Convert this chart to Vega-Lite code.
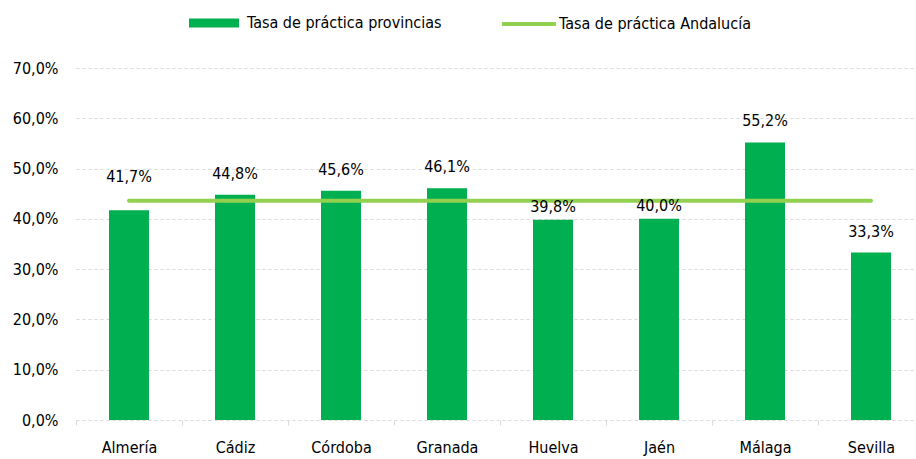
{
  "$schema": "https://vega.github.io/schema/vega-lite/v6.json",
  "autosize": "none",
  "width": 840,
  "height": 352,
  "padding": {"left": 76, "top": 68, "right": 0, "bottom": 39},
  "background": "white",
  "config": {
    "view": {"stroke": null},
    "font": "DejaVu Sans Condensed",
    "locale": {"number": {"decimal": ",", "thousands": ".", "grouping": [3], "currency": ["", " €"]}},
    "legend": {"labelFont": "DejaVu Sans Condensed", "labelFontSize": 16, "labelColor": "#000000", "title": null, "labelLimit": 0}
  },
  "data": {
    "values": [
      {"provincia": "Almería", "tasa": 0.417, "andalucia": 0.436, "serie": "Tasa de práctica provincias", "serieLinea": "Tasa de práctica Andalucía"},
      {"provincia": "Cádiz", "tasa": 0.448, "andalucia": 0.436, "serie": "Tasa de práctica provincias", "serieLinea": "Tasa de práctica Andalucía"},
      {"provincia": "Córdoba", "tasa": 0.456, "andalucia": 0.436, "serie": "Tasa de práctica provincias", "serieLinea": "Tasa de práctica Andalucía"},
      {"provincia": "Granada", "tasa": 0.461, "andalucia": 0.436, "serie": "Tasa de práctica provincias", "serieLinea": "Tasa de práctica Andalucía"},
      {"provincia": "Huelva", "tasa": 0.398, "andalucia": 0.436, "serie": "Tasa de práctica provincias", "serieLinea": "Tasa de práctica Andalucía"},
      {"provincia": "Jaén", "tasa": 0.400, "andalucia": 0.436, "serie": "Tasa de práctica provincias", "serieLinea": "Tasa de práctica Andalucía"},
      {"provincia": "Málaga", "tasa": 0.552, "andalucia": 0.436, "serie": "Tasa de práctica provincias", "serieLinea": "Tasa de práctica Andalucía"},
      {"provincia": "Sevilla", "tasa": 0.333, "andalucia": 0.436, "serie": "Tasa de práctica provincias", "serieLinea": "Tasa de práctica Andalucía"}
    ]
  },
  "encoding": {
    "x": {
      "field": "provincia", "type": "nominal", "sort": null,
      "scale": {"range": [0, 848], "paddingInner": 0, "paddingOuter": 0},
      "axis": {
        "title": null, "labelAngle": 0, "labelFontSize": 16, "labelColor": "#000000",
        "labelFont": "DejaVu Sans Condensed", "labelPadding": 14,
        "domain": false, "ticks": true, "tickBand": "extent", "tickColor": "#d9d9d9", "tickSize": 5,
        "grid": false, "labelOverlap": false
      }
    },
    "y": {
      "type": "quantitative",
      "scale": {"domain": [0, 0.7]},
      "axis": {
        "title": null, "format": ".1%", "values": [0, 0.1, 0.2, 0.3, 0.4, 0.5, 0.6, 0.7],
        "labelFontSize": 16, "labelColor": "#000000", "labelFont": "DejaVu Sans Condensed",
        "labelPadding": 18, "domain": false, "ticks": false, "labelOverlap": false, "labelBound": false,
        "grid": true, "gridColor": "#d9d9d9", "gridDash": [3, 3], "gridWidth": 1
      }
    }
  },
  "layer": [
    {
      "mark": {"type": "bar", "size": 40},
      "encoding": {
        "y": {"field": "tasa"},
        "fill": {
          "field": "serie", "type": "nominal",
          "scale": {"range": ["#00B050"]},
          "legend": {
            "orient": "none", "legendX": 113, "legendY": -70, "direction": "horizontal",
            "symbolType": "M-1,-0.18H1V0.18H-1Z", "symbolSize": 2500, "symbolStrokeWidth": 0,
            "labelOffset": 8
          }
        }
      }
    },
    {
      "mark": {"type": "line", "strokeWidth": 4, "strokeCap": "round"},
      "encoding": {
        "y": {"field": "andalucia"},
        "stroke": {
          "field": "serieLinea", "type": "nominal",
          "scale": {"range": ["#92D050"]},
          "legend": {
            "orient": "none", "legendX": 424, "legendY": -73, "direction": "horizontal",
            "symbolType": "stroke", "symbolSize": 2900, "symbolStrokeWidth": 4,
            "labelOffset": 1
          }
        }
      }
    },
    {
      "transform": [{"filter": "datum.provincia !== 'Almería' && datum.provincia !== 'Huelva' && datum.provincia !== 'Jaén'"}],
      "mark": {"type": "text", "fontSize": 16, "baseline": "middle", "dy": -21, "color": "#000000", "font": "DejaVu Sans Condensed"},
      "encoding": {"y": {"field": "tasa"}, "text": {"field": "tasa", "format": ".1%"}}
    },
    {
      "transform": [{"filter": "datum.provincia === 'Almería'"}],
      "mark": {"type": "text", "fontSize": 16, "baseline": "middle", "dy": -33, "color": "#000000", "font": "DejaVu Sans Condensed"},
      "encoding": {"y": {"field": "tasa"}, "text": {"field": "tasa", "format": ".1%"}}
    },
    {
      "transform": [{"filter": "datum.provincia === 'Huelva' || datum.provincia === 'Jaén'"}],
      "mark": {"type": "text", "fontSize": 16, "baseline": "middle", "dy": -13, "color": "#000000", "font": "DejaVu Sans Condensed"},
      "encoding": {"y": {"field": "tasa"}, "text": {"field": "tasa", "format": ".1%"}}
    }
  ],
  "resolve": {"scale": {"fill": "independent", "stroke": "independent"}}
}
